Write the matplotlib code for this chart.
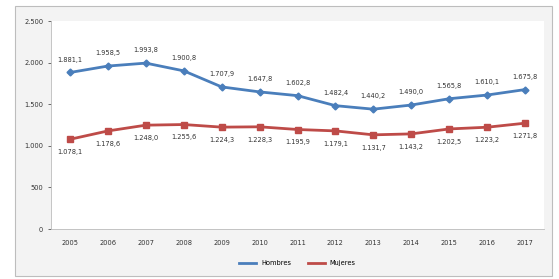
import matplotlib.pyplot as plt
from matplotlib.patches import Rectangle

years = ['2005', '2006', '2007', '2008', '2009', '2010', '2011',
         '2012', '2013', '2014', '2015', '2016', '2017']
hombres = [1881.1, 1958.5, 1993.8, 1900.8, 1707.9, 1647.8, 1602.8,
           1482.4, 1440.2, 1490.0, 1565.8, 1610.1, 1675.8]
mujeres = [1078.1, 1178.6, 1248.0, 1255.6, 1224.3, 1228.3, 1195.9,
           1179.1, 1131.7, 1143.2, 1202.5, 1223.2, 1271.8]
series_names = ['Hombres', 'Mujeres']


def fmt_es(v):
    s = f'{v:,.1f}'
    return s.replace(',', 'X').replace('.', ',').replace('X', '.')


fig = plt.figure(figsize=(5.59, 2.79), dpi=100, facecolor='white')
# chart frame
fig.patches.append(Rectangle((15 / 559, 3 / 279), 537 / 559, 270 / 279,
                             transform=fig.transFigure, facecolor='#f3f3f3',
                             edgecolor='#bdbdbd', linewidth=0.8, zorder=-5))

ax = fig.add_axes([51 / 559, 50 / 279, 493 / 559, 208 / 279])
ax.set_facecolor('white')
x = list(range(len(years)))

ax.plot(x, hombres, color='#4a7ebb', lw=2, marker='D', ms=3.5, label=series_names[0])
ax.plot(x, mujeres, color='#be4b48', lw=2, marker='s', ms=5, label=series_names[1])

for i, v in enumerate(hombres):
    ax.annotate(fmt_es(v), (i, v), xytext=(0, 7), textcoords='offset points',
                ha='center', va='bottom', fontsize=4.8, color='#333333')
for i, v in enumerate(mujeres):
    ax.annotate(fmt_es(v), (i, v), xytext=(0, -7), textcoords='offset points',
                ha='center', va='top', fontsize=4.8, color='#333333')

ax.set_xlim(-0.5, len(years) - 0.5)
ax.set_ylim(0, 2500)
ax.set_yticks([0, 500, 1000, 1500, 2000, 2500])
ax.set_yticklabels(['0', '500', '1.000', '1.500', '2.000', '2.500'])
ax.set_xticks(x)
ax.set_xticklabels(years)
ax.tick_params(axis='both', labelsize=4.8, colors='#333333', length=2, width=0.5)
ax.tick_params(axis='x', length=0, pad=8)
for side in ['top', 'right']:
    ax.spines[side].set_visible(False)
ax.spines['left'].set_color('#bbbbbb')
ax.spines['bottom'].set_color('#bbbbbb')
ax.spines['left'].set_linewidth(0.6)
ax.spines['bottom'].set_linewidth(0.6)

ax.legend(loc='upper center', bbox_to_anchor=(0.5, -0.12), ncol=2, frameon=False,
          fontsize=4.8, handlelength=2.5, columnspacing=2.5, markerscale=0)

fig.savefig('out.png', dpi=100)
